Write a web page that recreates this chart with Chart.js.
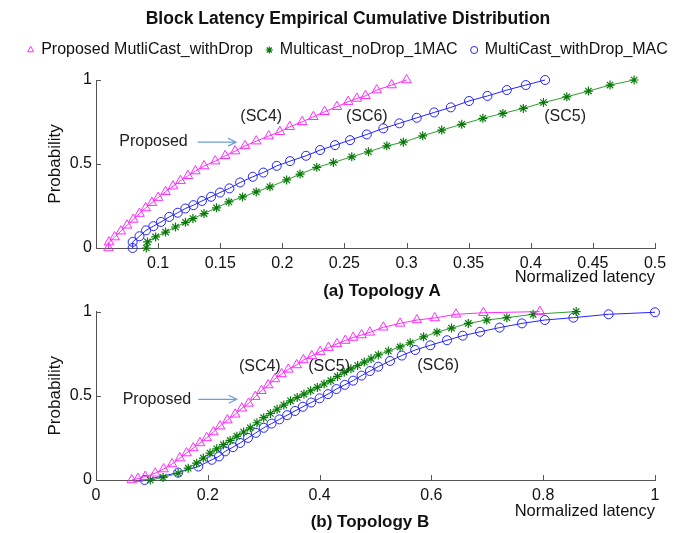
<!DOCTYPE html>
<html>
<head>
<meta charset="utf-8">
<title>Block Latency Empirical Cumulative Distribution</title>
<script src="https://cdn.jsdelivr.net/npm/chart.js@4.4.0/dist/chart.umd.min.js"></script>
<style>
  html, body { margin: 0; padding: 0; background: #fff; }
  #wrap { position: relative; width: 696px; height: 533px; overflow: hidden; }
  #chartA { position: absolute; left: 0; top: 0; }
  #chartB { position: absolute; left: 0; top: 298px; }
</style>
</head>
<body>
<div id="wrap">
  <canvas id="chartA" width="696" height="300"></canvas>
  <canvas id="chartB" width="696" height="235"></canvas>
</div>
<script>
// series names
var seriesNames = ['Proposed MutliCast_withDrop', 'Multicast_noDrop_1MAC', 'MultiCast_withDrop_MAC'];

// (a) Topology A
var topXTicks = [0.1, 0.15, 0.2, 0.25, 0.3, 0.35, 0.4, 0.45, 0.5];
var probTicks = [0, 0.5, 1];

var topSc4X = [0.060, 0.0605, 0.065, 0.070, 0.075, 0.080, 0.085, 0.090, 0.095, 0.100, 0.106, 0.112, 0.118, 0.124, 0.130, 0.137, 0.146, 0.154, 0.162, 0.170, 0.179, 0.189, 0.198, 0.206, 0.216, 0.225, 0.234, 0.244, 0.253, 0.260, 0.267, 0.276, 0.288, 0.300];
var topSc4Y = [0.000, 0.035, 0.065, 0.100, 0.135, 0.170, 0.205, 0.238, 0.270, 0.300, 0.335, 0.368, 0.400, 0.430, 0.458, 0.488, 0.517, 0.549, 0.577, 0.608, 0.636, 0.666, 0.692, 0.722, 0.751, 0.781, 0.811, 0.841, 0.871, 0.890, 0.906, 0.940, 0.970, 1.000];

var topSc5X = [0.0905, 0.0915, 0.098, 0.106, 0.114, 0.122, 0.128, 0.137, 0.147, 0.157, 0.168, 0.179, 0.190, 0.2035, 0.2143, 0.2277, 0.2411, 0.2559, 0.2693, 0.2841, 0.2974, 0.313, 0.3283, 0.3444, 0.3614, 0.3775, 0.394, 0.4102, 0.429, 0.4464, 0.4638, 0.4832];
var topSc5Y = [0.000, 0.036, 0.066, 0.095, 0.125, 0.153, 0.175, 0.205, 0.239, 0.274, 0.304, 0.334, 0.364, 0.405, 0.440, 0.480, 0.509, 0.543, 0.573, 0.608, 0.630, 0.668, 0.702, 0.736, 0.772, 0.801, 0.831, 0.866, 0.900, 0.934, 0.970, 1.000];

var topSc6X = [0.0795, 0.0795, 0.085, 0.0903, 0.0962, 0.1023, 0.109, 0.1158, 0.1219, 0.1284, 0.1353, 0.1426, 0.1498, 0.1574, 0.166, 0.1762, 0.1847, 0.1955, 0.2062, 0.2191, 0.2304, 0.2424, 0.2545, 0.268, 0.2813, 0.2942, 0.3082, 0.3222, 0.3356, 0.3503, 0.3651, 0.3807, 0.396, 0.4115];
var topSc6Y = [0.000, 0.036, 0.070, 0.105, 0.130, 0.155, 0.185, 0.210, 0.235, 0.255, 0.280, 0.305, 0.330, 0.355, 0.390, 0.424, 0.449, 0.489, 0.517, 0.549, 0.583, 0.612, 0.642, 0.676, 0.712, 0.742, 0.775, 0.807, 0.837, 0.875, 0.905, 0.940, 0.970, 1.000];

// (b) Topology B
var botXTicks = [0, 0.2, 0.4, 0.6, 0.8, 1];

var botSc4X = [0.064, 0.075, 0.088, 0.106, 0.121, 0.136, 0.150, 0.162, 0.174, 0.186, 0.198, 0.210, 0.222, 0.235, 0.249, 0.261, 0.273, 0.285, 0.296, 0.308, 0.320, 0.332, 0.344, 0.359, 0.371, 0.386, 0.401, 0.416, 0.431, 0.446, 0.460, 0.475, 0.490, 0.514, 0.544, 0.574, 0.606, 0.644, 0.693, 0.794];
var botSc4Y = [0.000, 0.008, 0.020, 0.040, 0.065, 0.095, 0.130, 0.160, 0.190, 0.220, 0.250, 0.285, 0.320, 0.356, 0.390, 0.426, 0.455, 0.495, 0.530, 0.564, 0.600, 0.630, 0.657, 0.683, 0.713, 0.737, 0.762, 0.786, 0.808, 0.828, 0.846, 0.861, 0.877, 0.907, 0.930, 0.950, 0.962, 0.984, 0.993, 1.000];

var botSc5X = [0.097, 0.120, 0.147, 0.165, 0.180, 0.192, 0.204, 0.216, 0.228, 0.240, 0.252, 0.264, 0.276, 0.288, 0.300, 0.312, 0.324, 0.336, 0.348, 0.360, 0.372, 0.384, 0.396, 0.408, 0.420, 0.432, 0.444, 0.456, 0.468, 0.480, 0.492, 0.505, 0.523, 0.544, 0.562, 0.586, 0.610, 0.636, 0.666, 0.699, 0.735, 0.782, 0.859];
var botSc5Y = [0.000, 0.015, 0.040, 0.070, 0.100, 0.130, 0.160, 0.185, 0.210, 0.235, 0.260, 0.285, 0.310, 0.340, 0.370, 0.395, 0.420, 0.445, 0.470, 0.490, 0.510, 0.530, 0.550, 0.570, 0.590, 0.615, 0.640, 0.660, 0.680, 0.700, 0.720, 0.743, 0.766, 0.790, 0.815, 0.850, 0.878, 0.902, 0.930, 0.950, 0.964, 0.984, 1.000];

var botSc6X = [0.087, 0.147, 0.183, 0.207, 0.220, 0.231, 0.245, 0.258, 0.272, 0.286, 0.300, 0.314, 0.328, 0.342, 0.356, 0.370, 0.385, 0.400, 0.415, 0.430, 0.445, 0.460, 0.475, 0.490, 0.505, 0.526, 0.547, 0.571, 0.598, 0.628, 0.656, 0.687, 0.722, 0.762, 0.803, 0.854, 0.917, 1.000];
var botSc6Y = [0.000, 0.044, 0.080, 0.120, 0.140, 0.170, 0.195, 0.220, 0.250, 0.280, 0.310, 0.335, 0.360, 0.385, 0.410, 0.435, 0.460, 0.485, 0.510, 0.540, 0.565, 0.590, 0.620, 0.647, 0.673, 0.707, 0.739, 0.772, 0.800, 0.830, 0.857, 0.880, 0.905, 0.930, 0.950, 0.964, 0.984, 0.996];

Chart.defaults.font.family = '"Liberation Sans", Arial, sans-serif';
Chart.defaults.color = '#111';

function pts(xs, ys) {
    return xs.map(function (x, i) { return { x: x, y: ys[i] }; });
}

function makeSets(s4x, s4y, s5x, s5y, s6x, s6y) {
    return [{
            label: seriesNames[0],
            data: pts(s4x, s4y),
            borderColor: '#ff2bff',
            backgroundColor: 'rgba(0,0,0,0)',
            borderWidth: 1,
            pointStyle: 'triangle',
            pointRadius: 5.5,
            pointBorderWidth: 1,
            clip: false
        }, {
            label: seriesNames[1],
            data: pts(s5x, s5y),
            borderColor: '#2f9e2f',
            backgroundColor: 'rgba(0,0,0,0)',
            pointBorderColor: '#087a08',
            borderWidth: 1,
            pointStyle: 'star',
            pointRadius: 4.5,
            pointBorderWidth: 1.2,
            clip: false
        }, {
            label: seriesNames[2],
            data: pts(s6x, s6y),
            borderColor: '#2424ff',
            backgroundColor: 'rgba(0,0,0,0)',
            borderWidth: 1,
            pointStyle: 'circle',
            pointRadius: 4.5,
            pointBorderWidth: 1,
            clip: false
        }];
}

// text notes, arrows, inward ticks and captions
var figNotes = {
    id: 'figNotes',
    beforeInit: function (chart, args, opts) {
        if (opts.legendExtra && chart.legend) {
            var fit = chart.legend.fit;
            chart.legend.fit = function () {
                fit.call(this);
                this.height += opts.legendExtra;
            };
        }
    },
    beforeDatasetsDraw: function (chart) {
        var ctx = chart.ctx, xs = chart.scales.x, ys = chart.scales.y, a = chart.chartArea;
        ctx.save();
        ctx.strokeStyle = '#555';
        ctx.lineWidth = 1;
        ctx.beginPath();
        xs.ticks.forEach(function (t) {
            var px = Math.round(xs.getPixelForValue(t.value)) + 0.5;
            ctx.moveTo(px, a.bottom);
            ctx.lineTo(px, a.bottom - 5);
        });
        ys.ticks.forEach(function (t) {
            var py = Math.round(ys.getPixelForValue(t.value)) + 0.5;
            ctx.moveTo(a.left, py);
            ctx.lineTo(a.left + 5, py);
        });
        ctx.stroke();
        ctx.restore();
    },
    afterDraw: function (chart, args, opts) {
        var ctx = chart.ctx, xs = chart.scales.x, ys = chart.scales.y;
        ctx.save();
        ctx.fillStyle = '#222';
        ctx.textAlign = 'center';
        ctx.textBaseline = 'middle';
        ctx.font = '16px "Liberation Sans", Arial, sans-serif';
        (opts.labels || []).forEach(function (l) {
            ctx.fillText(l.text, xs.getPixelForValue(l.x), ys.getPixelForValue(l.y));
        });
        ctx.strokeStyle = '#6b9fd6';
        ctx.lineWidth = 1.2;
        (opts.arrows || []).forEach(function (ar) {
            var x1 = xs.getPixelForValue(ar.x1), x2 = xs.getPixelForValue(ar.x2), y = ys.getPixelForValue(ar.y);
            ctx.beginPath();
            ctx.moveTo(x1, y);
            ctx.lineTo(x2, y);
            ctx.moveTo(x2 - 8, y - 4);
            ctx.lineTo(x2, y);
            ctx.lineTo(x2 - 8, y + 4);
            ctx.stroke();
        });
        if (opts.caption) {
            ctx.fillStyle = '#111';
            ctx.font = 'bold 17px "Liberation Sans", Arial, sans-serif';
            ctx.fillText(opts.caption.text, opts.caption.x, opts.caption.y);
        }
        ctx.restore();
    }
};

function axes(xMin, xMax, xTicks, xHeight, xTitlePad) {
    return {
        x: {
            type: 'linear',
            min: xMin,
            max: xMax,
            afterBuildTicks: function (s) { s.ticks = xTicks.map(function (v) { return { value: v }; }); },
            afterFit: function (s) { s.height = xHeight; },
            grid: { display: false, drawTicks: false },
            border: { display: true, color: '#555', width: 1 },
            ticks: {
                padding: 6,
                font: { size: 16 },
                callback: function (v) { return String(v); }
            },
            title: {
                display: true,
                text: 'Normalized latency',
                align: 'end',
                font: { size: 16.5 },
                padding: { top: 0, bottom: xTitlePad }
            }
        },
        y: {
            type: 'linear',
            min: 0,
            max: 1,
            afterBuildTicks: function (s) { s.ticks = probTicks.map(function (v) { return { value: v }; }); },
            afterFit: function (s) { s.width = 96; },
            grid: { display: false, drawTicks: false },
            border: { display: true, color: '#555', width: 1 },
            ticks: {
                padding: 4,
                font: { size: 16 },
                callback: function (v) { return String(v); }
            },
            title: {
                display: true,
                text: 'Probability',
                font: { size: 17 },
                padding: { top: 45, bottom: 0 }
            }
        },
        // empty margin on the right so title and legend stay centred on the page
        yRight: {
            type: 'linear',
            position: 'right',
            min: 0,
            max: 1,
            afterFit: function (s) { s.width = 41; },
            grid: { display: false, drawTicks: false },
            border: { display: false },
            ticks: { display: false }
        }
    };
}

var chartA = new Chart(document.getElementById('chartA'), {
    type: 'line',
    data: { datasets: makeSets(topSc4X, topSc4Y, topSc5X, topSc5Y, topSc6X, topSc6Y) },
    plugins: [figNotes],
    options: {
        responsive: false,
        animation: false,
        layout: { padding: { left: 0, right: 0, top: 0, bottom: 0 } },
        scales: axes(0.05, 0.5, topXTicks, 52, 13),
        plugins: {
            title: {
                display: true,
                text: 'Block Latency Empirical Cumulative Distribution',
                font: { size: 17.5, weight: 'bold' },
                color: '#111',
                padding: { top: 9, bottom: -2 }
            },
            legend: {
                display: true,
                position: 'top',
                labels: {
                    usePointStyle: true,
                    boxWidth: 5,
                    boxHeight: 5,
                    padding: 14,
                    color: '#111',
                    font: { size: 16 }
                }
            },
            tooltip: { enabled: false },
            figNotes: {
                legendExtra: 12,
                labels: [
                    { text: '(SC4)', x: 0.183, y: 0.78 },
                    { text: '(SC6)', x: 0.268, y: 0.78 },
                    { text: '(SC5)', x: 0.4276, y: 0.78 },
                    { text: 'Proposed', x: 0.0963, y: 0.633 }
                ],
                arrows: [{ x1: 0.1319, x2: 0.1627, y: 0.63 }],
                caption: { text: '(a) Topology A', x: 382, y: 291 }
            }
        }
    }
});

var chartB = new Chart(document.getElementById('chartB'), {
    type: 'line',
    data: { datasets: makeSets(botSc4X, botSc4Y, botSc5X, botSc5Y, botSc6X, botSc6Y) },
    plugins: [figNotes],
    options: {
        responsive: false,
        animation: false,
        layout: { padding: { left: 0, right: 0, top: 1, bottom: 0 } },
        scales: axes(0, 1, botXTicks, 53, 12),
        plugins: {
            legend: { display: false },
            tooltip: { enabled: false },
            figNotes: {
                labels: [
                    { text: '(SC4)', x: 0.293, y: 0.671 },
                    { text: '(SC5)', x: 0.417, y: 0.671 },
                    { text: '(SC6)', x: 0.612, y: 0.677 },
                    { text: 'Proposed', x: 0.109, y: 0.478 }
                ],
                arrows: [{ x1: 0.183, x2: 0.2517, y: 0.479 }],
                caption: { text: '(b) Topology B', x: 370, y: 224 }
            }
        }
    }
});
</script>
</body>
</html>
